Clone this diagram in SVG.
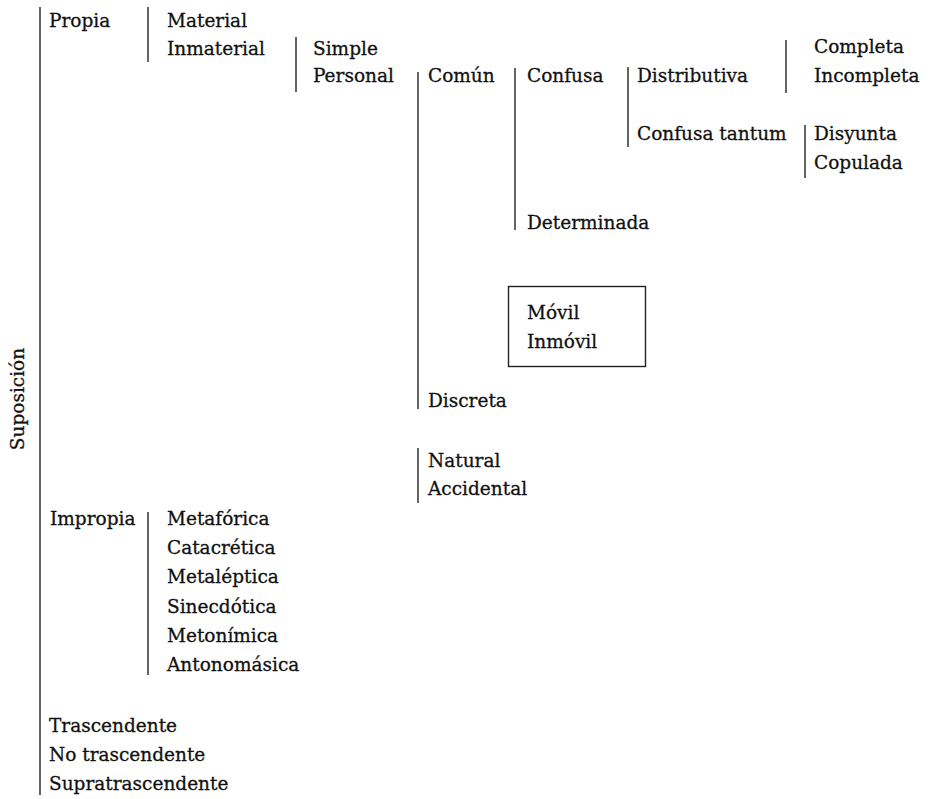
<svg xmlns="http://www.w3.org/2000/svg" width="932" height="799" viewBox="0 0 932 799">
<style>
text{font-family:"DejaVu Serif","Liberation Serif",serif;font-size:18.5px;fill:#111;stroke:#111;stroke-width:0.3}
.br{stroke:#222;stroke-width:1.4;fill:none}
</style>
<rect width="932" height="799" fill="#fff"/>
<g id="connectors">
<line class="br" x1="40" y1="7" x2="40" y2="795"/>
<line class="br" x1="148" y1="7" x2="148" y2="62"/>
<line class="br" x1="296" y1="37" x2="296" y2="92"/>
<line class="br" x1="418" y1="72" x2="418" y2="409"/>
<line class="br" x1="515" y1="68" x2="515" y2="230"/>
<line class="br" x1="628" y1="67" x2="628" y2="147"/>
<line class="br" x1="786" y1="40" x2="786" y2="93"/>
<line class="br" x1="805" y1="125" x2="805" y2="178"/>
<line class="br" x1="418" y1="448" x2="418" y2="503"/>
<line class="br" x1="148" y1="512" x2="148" y2="675"/>
</g>
<g id="root"><text transform="translate(24,399) rotate(-90)" text-anchor="middle">Suposición</text></g>
<g id="propia"><text x="49" y="27">Propia</text></g>
<g id="material"><text x="167" y="27">Material</text><text x="167" y="55">Inmaterial</text></g>
<g id="simple"><text x="313" y="55">Simple</text><text x="313" y="82">Personal</text></g>
<g id="comun"><text x="428" y="82">Común</text></g>
<g id="confusa"><text x="527" y="82">Confusa</text></g>
<g id="distributiva"><text x="637" y="82">Distributiva</text></g>
<g id="completa"><text x="814" y="53">Completa</text><text x="814" y="82">Incompleta</text></g>
<g id="confusa-tantum"><text x="637" y="140">Confusa tantum</text></g>
<g id="disyunta"><text x="814" y="140">Disyunta</text><text x="814" y="169">Copulada</text></g>
<g id="determinada"><text x="527" y="229">Determinada</text></g>
<g id="movil"><rect x="508.5" y="286.5" width="137" height="80" class="br"/><text x="527" y="319">Móvil</text><text x="527" y="348">Inmóvil</text></g>
<g id="discreta"><text x="428" y="407">Discreta</text></g>
<g id="natural"><text x="428" y="467">Natural</text><text x="428" y="495">Accidental</text></g>
<g id="impropia"><text x="50" y="525">Impropia</text></g>
<g id="figuras"><text x="167" y="525">Metafórica</text><text x="167" y="554">Catacrética</text><text x="167" y="583">Metaléptica</text><text x="167" y="613">Sinecdótica</text><text x="167" y="642">Metonímica</text><text x="167" y="671">Antonomásica</text></g>
<g id="trascendente"><text x="49" y="732">Trascendente</text><text x="49" y="761">No trascendente</text><text x="49" y="790">Supratrascendente</text></g>
</svg>
